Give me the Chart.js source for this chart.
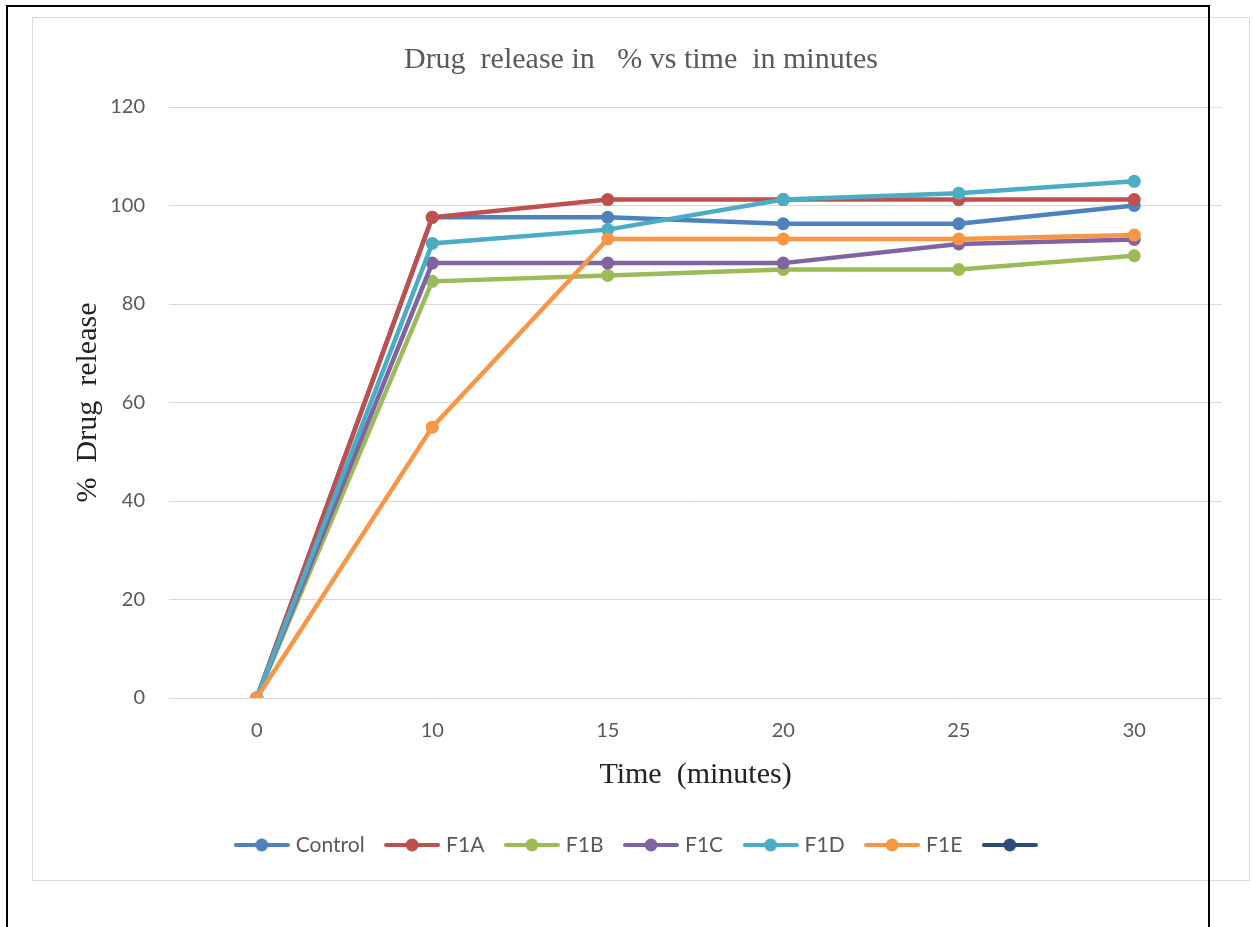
<!DOCTYPE html>
<html>
<head>
<meta charset="utf-8">
<script src="https://cdn.jsdelivr.net/npm/chart.js@4/dist/chart.umd.min.js"></script>
<style>
  body { margin: 0; background: #fff; width: 1253px; height: 927px; overflow: hidden; position: relative; }
  #frame { position: absolute; left: 6px; top: 5px; width: 1200px; height: 940px; border: 2px solid #000; border-bottom: none; z-index: 2; pointer-events: none; }
  #box { position: absolute; left: 32px; top: 17px; width: 1216px; height: 862px; border: 1px solid #d9d9d9; }
</style>
</head>
<body>
<div id="box"><canvas id="releaseChart" width="1216" height="862"></canvas></div>
<div id="frame"></div>
<script>
const timeLabels = ["0", "10", "15", "20", "25", "30"];
const seriesNames = ["Control", "F1A", "F1B", "F1C", "F1D", "F1E", ""];
const control = [0, 97.6, 97.6, 96.3, 96.3, 100];
const f1a = [0, 97.6, 101.2, 101.2, 101.2, 101.2];
const f1b = [0, 84.6, 85.8, 87, 87, 89.8];
const f1c = [0, 88.3, 88.3, 88.3, 92.2, 93.1];
const f1d = [0, 92.3, 95.1, 101.2, 102.5, 104.9];
const f1e = [0, 55, 93.2, 93.2, 93.2, 94];
const blank = [];
const seriesValues = [control, f1a, f1b, f1c, f1d, f1e, blank];
const colors = ["#4F81BD", "#C0504D", "#9BBB59", "#8064A2", "#4BACC6", "#F79646", "#2C4D75"];

const tickFont = { family: "Lato, 'Open Sans', sans-serif", size: 20 };
const legendFont = { family: "Lato, 'Open Sans', sans-serif", size: 21 };
const serifFont = { family: "'Liberation Serif', 'DejaVu Serif', serif", size: 30, weight: "normal" };

// little line + dot swatch for the legend
function legendSwatch(color) {
  const c = document.createElement("canvas");
  c.width = 56;
  c.height = 14;
  const g = c.getContext("2d");
  g.strokeStyle = color;
  g.lineWidth = 4;
  g.lineCap = "round";
  g.beginPath();
  g.moveTo(2, 7);
  g.lineTo(54, 7);
  g.stroke();
  g.fillStyle = color;
  g.beginPath();
  g.arc(28, 7, 6.5, 0, Math.PI * 2);
  g.fill();
  return c;
}

const datasets = seriesNames.map((name, i) => ({
  label: name,
  data: seriesValues[i],
  borderColor: colors[i],
  backgroundColor: colors[i],
  borderWidth: 4.5,
  pointRadius: 6.5,
  pointBackgroundColor: colors[i],
  pointBorderWidth: 0,
  tension: 0,
  order: seriesNames.length - i,
}));

new Chart(document.getElementById("releaseChart").getContext("2d"), {
  type: "line",
  data: { labels: timeLabels, datasets: datasets },
  options: {
    responsive: false,
    animation: false,
    events: [],
    layout: { padding: { left: 0, right: 0, top: 0, bottom: 14.5 } },
    scales: {
      x: {
        offset: true,
        grid: { display: false, drawTicks: false },
        border: { display: false },
        ticks: { font: tickFont, color: "#595959", padding: 21 },
        title: {
          display: true,
          text: "Time  (minutes)",
          font: serifFont,
          color: "#222",
          padding: { top: 0, bottom: 17.5 },
        },
        afterFit: (s) => { s.height = 112.5; },
      },
      y: {
        min: 0,
        max: 120,
        grid: { color: "#d9d9d9", lineWidth: 1, drawTicks: false },
        border: { display: false },
        ticks: { stepSize: 20, font: tickFont, color: "#595959", padding: 24 },
        title: {
          display: true,
          text: "%  Drug  release",
          font: serifFont,
          color: "#222",
          padding: { top: 37, bottom: 0 },
        },
        afterFit: (s) => { s.width = 136; },
      },
      spacer: {
        position: "right",
        grid: { display: false, drawTicks: false },
        border: { display: false },
        ticks: { display: false },
        afterFit: (s) => { s.width = 27; },
      },
    },
    plugins: {
      title: {
        display: true,
        text: "Drug  release in   % vs time  in minutes",
        font: serifFont,
        color: "#595959",
        padding: { top: 24, bottom: 29 },
      },
      legend: {
        position: "bottom",
        labels: {
          font: legendFont,
          color: "#595959",
          usePointStyle: true,
          pointStyleWidth: 47,
          padding: 24,
          sort: (a, b) => a.datasetIndex - b.datasetIndex,
          generateLabels: (chart) => {
            const items = Chart.defaults.plugins.legend.labels.generateLabels(chart);
            items.forEach((it) => {
              it.pointStyle = legendSwatch(colors[it.datasetIndex]);
            });
            return items;
          },
        },
      },
      tooltip: { enabled: false },
    },
  },
});
</script>
</body>
</html>
